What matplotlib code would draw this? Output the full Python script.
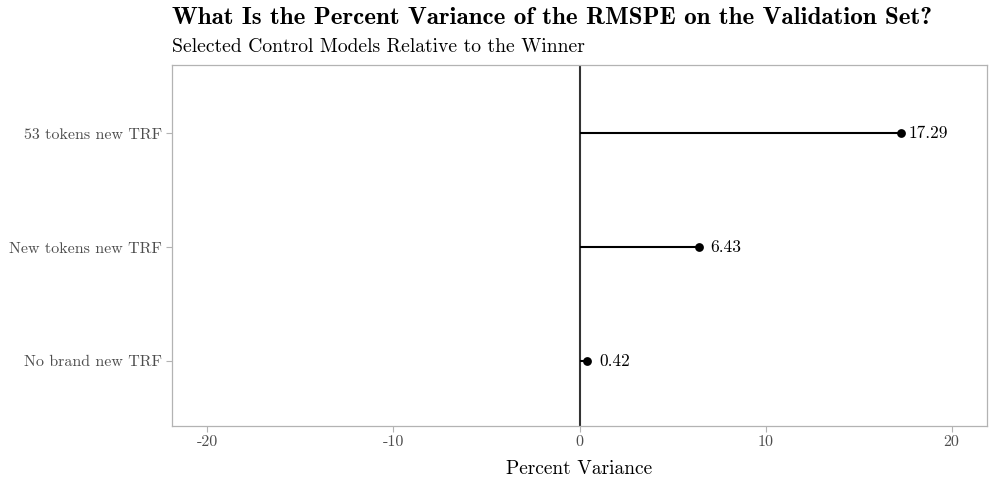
import matplotlib
matplotlib.use("Agg")
import matplotlib.pyplot as plt

# Data
models = ["No brand new TRF", "New tokens new TRF", "53 tokens new TRF"]
variance = [0.42, 6.43, 17.29]
x_ticks = [-20, -10, 0, 10, 20]

plt.rcParams["font.family"] = "cmr10"
plt.rcParams["axes.unicode_minus"] = False
plt.rcParams["mathtext.fontset"] = "cm"

fig = plt.figure(figsize=(9.89, 4.82), dpi=100)
W, H = 989, 482
left, right, top, bottom = 172, 987, 65, 426
ax = fig.add_axes([left / W, 1 - bottom / H, (right - left) / W, (bottom - top) / H])

ypos = list(range(1, len(models) + 1))

ax.axvline(0, color="#333333", lw=1.5, zorder=1)
ax.hlines(ypos, 0, variance, color="black", lw=1.5, zorder=2)
ax.scatter(variance, ypos, s=40, color="black", zorder=3, linewidths=0)
for v, y in zip(variance, ypos):
    ax.text(v + 1.45, y, f"{v:.2f}", ha="center", va="center", fontsize=12.5, color="black")

ax.set_xlim(-21.9, 21.9)
ax.set_ylim(0.43, 3.6)
ax.set_xticks(x_ticks)
ax.set_xticklabels([str(t) for t in x_ticks])
ax.set_yticks(ypos)
ax.set_yticklabels(models)
ax.tick_params(axis="both", colors="#b3b3b3", length=4, width=0.8, labelsize=11.5,
               labelcolor="#4d4d4d", pad=3)
for s in ax.spines.values():
    s.set_color("#b3b3b3")
    s.set_linewidth(0.9)

ax.set_xlabel("Percent Variance", fontsize=14, color="black", labelpad=8)

fig.text(left / W, 1 - 23.5 / H, "What Is the Percent Variance of the RMSPE on the Validation Set?",
         fontsize=18, family="cmb10", ha="left", va="baseline", color="black",
         fontweight="bold")
fig.text(left / W, 1 - 52 / H, "Selected Control Models Relative to the Winner",
         fontsize=14.1, ha="left", va="baseline", color="black")

fig.savefig("out.png", dpi=100, facecolor="white")
